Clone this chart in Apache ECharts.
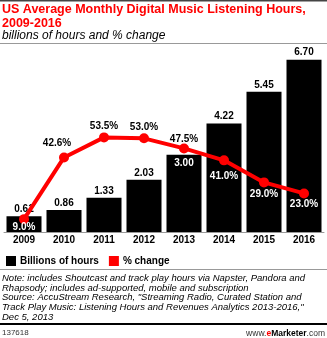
<!DOCTYPE html>
<html><head><meta charset="utf-8">
<script src="https://cdn.jsdelivr.net/npm/echarts@6/dist/echarts.min.js"></script>
<style>html,body{margin:0;padding:0;background:#fff}#c{width:327px;height:338px}</style>
</head><body><div id="c"></div>
<script>
const years = ['2009','2010','2011','2012','2013','2014','2015','2016'];
const hours = [0.61, 0.86, 1.33, 2.03, 3.00, 4.22, 5.45, 6.70];
const pctChange = [9.0, 42.6, 53.5, 53.0, 47.5, 41.0, 29.0, 23.0];
const pctLabelPos = ['bottom','top','top','top','top','bottom','bottom','bottom'];
const pctLabelDist = [-2, 4, 1, 1, -1, 6, 2, 1];
const pctLabelShift = [0, -7, 0, 0, 0, 0, 0, 0];
const hoursInside = [false,false,false,false,true,false,false,false];

const FONT = 'Liberation Sans, Arial, sans-serif';
const chart = echarts.init(document.getElementById('c'), null, {renderer:'canvas'});
chart.setOption({
  animation:false,
  textStyle:{fontFamily:FONT},
  grid:{left:4,right:3,top:52,bottom:106},
  xAxis:{type:'category',data:years,
    axisLine:{lineStyle:{color:'#999',width:1}},axisTick:{show:false},
    axisLabel:{color:'#000',fontWeight:'bold',fontSize:10,margin:3,fontFamily:FONT}},
  yAxis:[
    {type:'value',min:0,max:7,show:false,splitLine:{show:false}},
    {type:'value',min:2,max:100,show:false,splitLine:{show:false}}
  ],
  legend:{left:1,top:251,itemWidth:10,itemHeight:10,itemGap:10,
    textStyle:{fontWeight:'bold',fontSize:10,color:'#000',fontFamily:FONT,padding:[0,0,0,-1]},
    data:[{name:'Billions of hours',icon:'rect'},{name:'% change',icon:'rect'}]},
  series:[
    {name:'Billions of hours',type:'bar',barWidth:35,yAxisIndex:0,
     itemStyle:{color:'#000'},
     data:hours.map((v,i)=>({value:v,label:{show:true,
        position:hoursInside[i]?'insideTop':'top',distance:hoursInside[i]?3:2,
        color:hoursInside[i]?'#fff':'#000'}})),
     label:{show:true,fontWeight:'bold',fontSize:10,fontFamily:FONT,
       formatter:p=>p.value.toFixed(2)}},
    {name:'% change',type:'line',yAxisIndex:1,
     itemStyle:{color:'#ff0000'},lineStyle:{color:'#ff0000',width:4},
     symbol:'circle',symbolSize:10,z:5,
     data:pctChange.map((v,i)=>({value:v,label:{show:true,position:pctLabelPos[i],
        distance:pctLabelDist[i],offset:[pctLabelShift[i],0],
        color:pctLabelPos[i]==='bottom'?'#fff':'#000'}})),
     label:{show:true,fontWeight:'bold',fontSize:10,fontFamily:FONT,
       formatter:p=>p.value.toFixed(1)+'%'}}
  ],
  graphic:[
    {type:'rect',shape:{x:0,y:0,width:327,height:1.5},style:{fill:'#444'}},
    {type:'text',left:2,top:3,style:{text:'US Average Monthly Digital Music Listening Hours,\n2009-2016',
      fill:'#ff0000',font:'bold 12.5px '+FONT,lineHeight:13.5}},
    {type:'text',left:2,top:30,style:{text:'billions of hours and % change',
      fill:'#000',font:'italic 12px '+FONT}},
    {type:'rect',shape:{x:0,y:43,width:327,height:1},style:{fill:'#999'}},
    {type:'rect',shape:{x:0,y:269,width:327,height:1},style:{fill:'#999'}},
    {type:'text',left:2,top:273,style:{text:'Note: includes Shoutcast and track play hours via Napster, Pandora and\nRhapsody; includes ad-supported, mobile and subscription\nSource: AccuStream Research, "Streaming Radio, Curated Station and\nTrack Play Music: Listening Hours and Revenues Analytics 2013-2016,"\nDec 5, 2013',
      fill:'#000',font:'italic 9.5px '+FONT,lineHeight:9.9}},
    {type:'rect',shape:{x:0,y:323,width:327,height:2},style:{fill:'#000'}},
    {type:'text',left:2,top:329,style:{text:'137618',fill:'#333',font:'8px '+FONT}},
    {type:'text',right:2,top:329,style:{
      text:'{a|www.}{e|e}{b|Marketer}{a|.com}',
      rich:{a:{fill:'#333',font:'8.5px '+FONT},e:{fill:'#ff0000',font:'bold 8.5px '+FONT},b:{fill:'#000',font:'bold 8.5px '+FONT}}}}
  ]
});
</script></body></html>
